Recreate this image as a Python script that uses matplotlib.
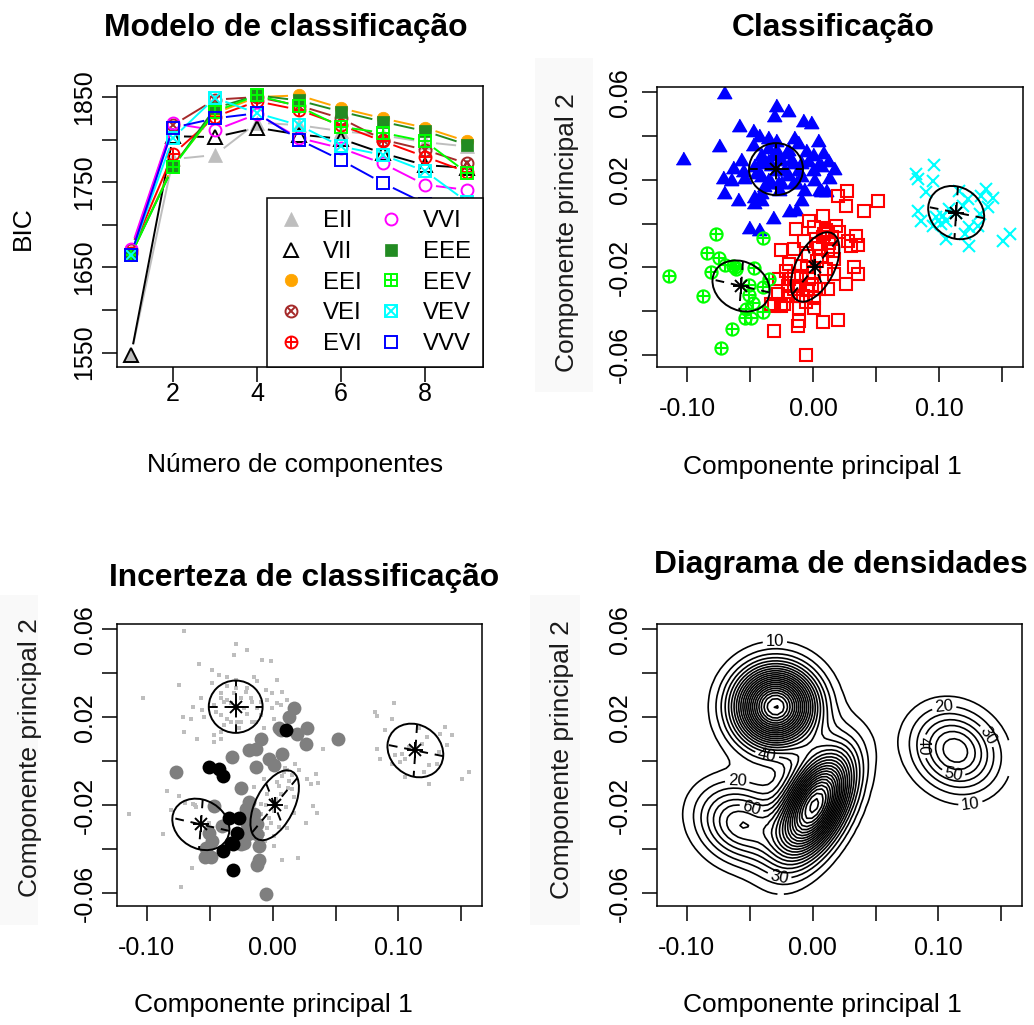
import numpy as np
import matplotlib
matplotlib.use('Agg')
import matplotlib.pyplot as plt
from matplotlib.patches import Ellipse, Rectangle
from matplotlib.collections import LineCollection

plt.rcParams['font.family'] = ['Liberation Sans', 'DejaVu Sans']

# ---------------- data: BIC per model ----------------
n_comp = [1, 2, 3, 4, 5, 6, 7, 8, 9]
bic_EII = [1547, 1777, 1782, 1820, 1817, 1810, 1805, 1797, 1792]
bic_VII = [1547, 1804, 1803, 1814, 1806, 1801, 1784, 1770, 1767]
bic_EEI = [1665, 1770, 1831, 1850, 1852, 1837, 1825, 1814, 1798]
bic_VEI = [1670, 1817, 1847, 1850, 1840, 1825, 1800, 1788, 1772]
bic_EVI = [1667, 1783, 1827, 1845, 1835, 1817, 1798, 1780, 1762]
bic_VVI = [1672, 1819, 1811, 1830, 1802, 1790, 1772, 1747, 1741]
bic_EEE = [1665, 1768, 1837, 1852, 1846, 1833, 1821, 1810, 1794]
bic_EEV = [1665, 1768, 1833, 1852, 1839, 1815, 1808, 1798, 1761]
bic_VEV = [1665, 1802, 1849, 1831, 1817, 1792, 1782, 1763, 1727]
bic_VVV = [1665, 1814, 1825, 1831, 1800, 1776, 1749, 1725, 1700]

# ---------------- data: points per cluster (PC1, PC2) ----------------
blue_x = [-0.0704, -0.1034, -0.0743, -0.0585, -0.0294, -0.0201, -0.0307, -0.0082, -0.0016, -0.0479,
          -0.0426, -0.0360, -0.0294, -0.0148, -0.0122, 0.0037, -0.0056, -0.0003, 0.0116, 0.0169,
          0.0130, -0.0003, -0.0095, -0.0201, -0.0413, -0.0386, -0.0637, -0.0558, -0.0717, -0.0651,
          -0.0545, -0.0704, -0.0598, -0.0466, -0.0413, -0.0466, -0.0320, -0.0188, -0.0135, -0.0095,
          0.0050, 0.0103, -0.0506, -0.0426, -0.0254, -0.0333, -0.0360, -0.0294, -0.0161, -0.0201,
          -0.0452, -0.0042, -0.0135, -0.0267, 0.0037, 0.0077, -0.0413, -0.0069, -0.0479, -0.0360,
          -0.0571, -0.0095, 0.0010, -0.0307, 0.0063, -0.0413, -0.0333, -0.0254, -0.0413, -0.0360,
          -0.0280, -0.0228, -0.0175, -0.0122, -0.0161, -0.0466, -0.0294, -0.0214, -0.0386, 0.0063]
blue_y = [0.0593, 0.0290, 0.0348, 0.0443, 0.0532, 0.0509, 0.0486, 0.0463, 0.0455, 0.0417,
          0.0394, 0.0386, 0.0371, 0.0386, 0.0364, 0.0371, 0.0326, 0.0310, 0.0280, 0.0244,
          0.0203, 0.0241, 0.0272, 0.0333, 0.0310, 0.0272, 0.0249, 0.0234, 0.0203, 0.0195,
          0.0203, 0.0135, 0.0101, 0.0119, 0.0104, 0.0089, 0.0020, 0.0051, 0.0058, 0.0104,
          0.0150, 0.0142, -0.0026, -0.0034, 0.0180, 0.0180, 0.0280, 0.0241, 0.0272, 0.0218,
          0.0226, 0.0280, 0.0180, 0.0150, 0.0264, 0.0318, 0.0135, 0.0150, 0.0356, 0.0341,
          0.0287, 0.0211, 0.0195, 0.0310, 0.0142, 0.0287, 0.0264, 0.0287, 0.0211, 0.0195,
          0.0180, 0.0241, 0.0287, 0.0241, 0.0180, 0.0257, 0.0333, 0.0318, 0.0165, 0.0257]

red_x = [0.0196, 0.0270, 0.0262, 0.0402, 0.0518, -0.0135, -0.0029, 0.0077, 0.0010, -0.0254,
         -0.0148, -0.0069, 0.0077, 0.0130, 0.0209, 0.0275, 0.0341, 0.0360, 0.0156, 0.0037,
         -0.0214, -0.0267, -0.0188, -0.0095, 0.0010, 0.0103, 0.0169, 0.0323, 0.0355, 0.0262,
         -0.0122, -0.0042, -0.0201, -0.0280, -0.0122, 0.0010, -0.0333, -0.0254, -0.0109, 0.0010,
         0.0117, -0.0109, -0.0122, 0.0077, 0.0201, -0.0312, -0.0056, 0.0063, -0.0042, -0.0095,
         -0.0188, 0.0169, 0.0117, 0.0302, -0.0029, -0.0148, -0.0312, -0.0230, 0.0100, 0.0150,
         0.0050, -0.0010, 0.0050, -0.0080, 0.0090, 0.0180, 0.0120, -0.0050, -0.0150, -0.0060,
         0.0030, -0.0200]
red_y = [0.0127, 0.0150, 0.0078, 0.0058, 0.0104, -0.0023, 0.0012, 0.0035, -0.0018, -0.0121,
         -0.0117, -0.0079, -0.0064, -0.0087, -0.0041, -0.0079, -0.0057, -0.0099, -0.0125, -0.0095,
         -0.0217, -0.0255, -0.0255, -0.0240, -0.0224, -0.0209, -0.0232, -0.0201, -0.0232, -0.0278,
         -0.0286, -0.0301, -0.0286, -0.0324, -0.0331, -0.0339, -0.0369, -0.0377, -0.0385, -0.0385,
         -0.0301, -0.0446, -0.0469, -0.0450, -0.0441, -0.0492, -0.0603, -0.0148, -0.0148, -0.0194,
         -0.0186, -0.0163, -0.0041, -0.0102, -0.0255, -0.0240, -0.0377, -0.0370, -0.0030, -0.0060,
         -0.0110, -0.0280, -0.0300, -0.0330, -0.0050, -0.0010, -0.0120, -0.0200, -0.0300, -0.0360,
         -0.0170, -0.0330]

green_x = [-0.1140, -0.0770, -0.0394, -0.0844, -0.0748, -0.0810, -0.0871, -0.0632, -0.0611, -0.0466,
           -0.0510, -0.0399, -0.0510, -0.0479, -0.0532, -0.0394, -0.0537, -0.0643, -0.0730, -0.0347,
           -0.0492, -0.0700, -0.0620]
green_y = [-0.0240, -0.0046, -0.0067, -0.0133, -0.0156, -0.0220, -0.0331, -0.0194, -0.0209, -0.0204,
           -0.0281, -0.0293, -0.0327, -0.0362, -0.0392, -0.0407, -0.0434, -0.0484, -0.0571, -0.0255,
           -0.0434, -0.0190, -0.0200]

cyan_x = [0.0963, 0.0831, 0.0950, 0.0897, 0.0831, 0.0857, 0.0976, 0.1029, 0.1056, 0.0950,
          0.1161, 0.1228, 0.1333, 0.1426, 0.1386, 0.1320, 0.1240, 0.1307, 0.1201, 0.1056,
          0.1240, 0.1506, 0.1558, 0.1135, 0.1082, 0.1188, 0.1373, 0.0817, 0.1016]
cyan_y = [0.0267, 0.0206, 0.0195, 0.0142, 0.0058, 0.0012, 0.0028, 0.0035, 0.0012, -0.0011,
          0.0150, 0.0112, 0.0127, 0.0119, 0.0074, 0.0043, -0.0018, -0.0011, -0.0049, -0.0072,
          -0.0102, -0.0079, -0.0049, 0.0050, 0.0066, 0.0081, 0.0157, 0.0226, -0.0003]

# ---------------- data: fitted mixture (blue, red, green, cyan) ----------------
comp_mean_x = [-0.0294, 0.0016, -0.0571, 0.1135]
comp_mean_y = [0.0249, -0.0199, -0.0286, 0.0050]
comp_sd_x = [0.0214, 0.0193, 0.0227, 0.0222]
comp_sd_y = [0.0119, 0.0159, 0.0117, 0.0122]
comp_rho = [0.0, 0.51, -0.19, -0.15]
comp_prop = [0.37, 0.37, 0.13, 0.13]

# contour labels as R placed them: level and a point near the label
label_level = [10, 20, 60, 40, 30, 20, 30, 40, 50, 10]
label_x = [-0.030, -0.060, -0.051, -0.0365, -0.026, 0.1048, 0.1365, 0.089, 0.1114, 0.126]
label_y = [0.053, -0.0114, -0.025, 0.0023, -0.0508, 0.024, 0.0107, 0.0069, -0.0068, -0.0212]

W, H = 1034, 1025
fig = plt.figure(figsize=(W / 100, H / 100), dpi=100)


def fx(x):
    return x / W


def fy(y):
    return 1 - y / H


def add_axes(l, t, r, b):
    return fig.add_axes([fx(l), fy(b), (r - l) / W, (b - t) / H])


TICK_FS = 18
LAB_FS = 19
TITLE_FS = 22.9


def style_axes(ax, xpad, ypad):
    for s in ax.spines.values():
        s.set_linewidth(1.1)
    ax.tick_params(length=10.5, width=1.1, labelsize=TICK_FS)
    ax.tick_params(axis='x', pad=xpad)
    ax.tick_params(axis='y', pad=ypad)


def pc_ticks(ax):
    ax.set_xlim(-0.1238, 0.1665)
    ax.set_ylim(-0.0657, 0.0625)
    ax.set_xticks([-0.10, -0.05, 0.0, 0.05, 0.10, 0.15])
    ax.set_xticklabels(['-0.10', '', '0.00', '', '0.10', ''])
    ax.set_yticks([-0.06, -0.04, -0.02, 0.0, 0.02, 0.04, 0.06])
    ax.set_yticklabels(['-0.06', '', '-0.02', '', '0.02', '', '0.06'], rotation=90, va='center')


# ---------------- panel 1: BIC ----------------
ax1 = add_axes(117, 86, 483, 367)
ax1.set_xlim(0.667, 9.38)
ax1.set_ylim(1533, 1863)
ax1.set_xticks([2, 4, 6, 8])
ax1.set_yticks([1550, 1600, 1650, 1700, 1750, 1800, 1850])
ax1.set_yticklabels(['1550', '', '1650', '', '1750', '', '1850'], rotation=90, va='center')
style_axes(ax1, 0, 4.5)

models = [
    ('EII', bic_EII, '#BEBEBE', [('^', 10, True)]),
    ('VII', bic_VII, 'black', [('^', 10, False)]),
    ('EEI', bic_EEI, '#FFA500', [('o', 9, True)]),
    ('VEI', bic_VEI, '#A52A2A', [('o', 8.6, False), ('x', 6.1, False)]),
    ('EVI', bic_EVI, '#FF0000', [('o', 8.6, False), ('+', 8.6, False)]),
    ('VVI', bic_VVI, '#FF00FF', [('o', 8.6, False)]),
    ('EEE', bic_EEE, '#228B22', [('s', 8.6, True)]),
    ('EEV', bic_EEV, '#00FF00', [('s', 8.6, False), ('+', 8.6, False)]),
    ('VEV', bic_VEV, '#00FFFF', [('s', 8.6, False), ('x', 8.6, False)]),
    ('VVV', bic_VVV, '#0000FF', [('s', 8.8, False)]),
]

inv = ax1.transData.inverted()
handles = []
labels = []
for name, vals, col, marks in models:
    pts = ax1.transData.transform(np.column_stack([n_comp, vals]))
    segs = []
    gap = 11
    for p0, p1 in zip(pts[:-1], pts[1:]):
        d = p1 - p0
        L = np.hypot(d[0], d[1])
        if L <= 2 * gap:
            continue
        u = d / L
        segs.append(inv.transform([p0 + u * gap, p1 - u * gap]))
    ax1.add_collection(LineCollection(segs, colors=col, linewidths=1.4))
    hs = []
    for m, ms, filled in marks:
        h, = ax1.plot(n_comp, vals, linestyle='none', marker=m, markersize=ms,
                      markeredgecolor=col, markerfacecolor=col if filled else 'none',
                      markeredgewidth=1.4 if not filled else 0.5)
        hs.append(h)
    handles.append(tuple(hs))
    labels.append(name)

leg = ax1.legend(handles, labels, ncol=2, loc='lower right', bbox_to_anchor=(1, 0),
                 borderaxespad=0, fontsize=17.3, frameon=True, fancybox=False, framealpha=1,
                 edgecolor='black', handlelength=1.0, handletextpad=0.85, columnspacing=0.7,
                 borderpad=0.5, labelspacing=0.36)
leg.get_frame().set_linewidth(1.1)

fig.text(fx(286), fy(28), 'Modelo de classificação', ha='center', va='center',
         fontsize=TITLE_FS, fontweight='bold')
fig.text(fx(295), fy(465), 'Número de componentes', ha='center', va='center', fontsize=LAB_FS)
fig.text(fx(23), fy(228), 'BIC', ha='center', va='center', rotation=90, fontsize=LAB_FS)

# ---------------- shared mixture helpers ----------------
all_x = np.array(blue_x + red_x + green_x + cyan_x)
all_y = np.array(blue_y + red_y + green_y + cyan_y)


def comp_pdf(k, x, y):
    zx = (x - comp_mean_x[k]) / comp_sd_x[k]
    zy = (y - comp_mean_y[k]) / comp_sd_y[k]
    r = comp_rho[k]
    q = (zx ** 2 - 2 * r * zx * zy + zy ** 2) / (1 - r ** 2)
    return np.exp(-q / 2) / (2 * np.pi * comp_sd_x[k] * comp_sd_y[k] * np.sqrt(1 - r ** 2))


def draw_components(ax):
    for k in range(4):
        sx, sy, r = comp_sd_x[k], comp_sd_y[k], comp_rho[k]
        cov = np.array([[sx * sx, r * sx * sy], [r * sx * sy, sy * sy]])
        vals, vecs = np.linalg.eigh(cov)
        c = np.array([comp_mean_x[k], comp_mean_y[k]])
        ang = np.degrees(np.arctan2(vecs[1, 1], vecs[0, 1]))
        ax.add_patch(Ellipse(c, 2 * np.sqrt(vals[1]), 2 * np.sqrt(vals[0]), angle=ang,
                             fill=False, edgecolor='black', linewidth=1.4, zorder=5))
        for j in range(2):
            v = vecs[:, j] * np.sqrt(vals[j])
            ax.plot([c[0] - v[0], c[0] + v[0]], [c[1] - v[1], c[1] + v[1]], color='black',
                    linewidth=1.4, linestyle=(0, (4.5, 3.5)), zorder=5)
        ax.plot(c[0], c[1], marker='+', markersize=12, color='black', markeredgewidth=1.4, zorder=6)
        ax.plot(c[0], c[1], marker='x', markersize=8.5, color='black', markeredgewidth=1.4, zorder=6)


band = '#f9f9f9'
fig.patches.append(Rectangle((fx(535), fy(392)), 58 / W, 334 / H, transform=fig.transFigure,
                             facecolor=band, edgecolor='none', zorder=-1))
fig.patches.append(Rectangle((fx(0), fy(925)), 38 / W, 330 / H, transform=fig.transFigure,
                             facecolor=band, edgecolor='none', zorder=-1))
fig.patches.append(Rectangle((fx(530), fy(925)), 50 / W, 330 / H, transform=fig.transFigure,
                             facecolor=band, edgecolor='none', zorder=-1))

# ---------------- panel 2: classification ----------------
ax2 = add_axes(657, 87, 1023, 367)
pc_ticks(ax2)
style_axes(ax2, 11, 7.6)
tri = [(-1, -0.5774), (1, -0.5774), (0, 1.1547)]
ax2.plot(blue_x, blue_y, linestyle='none', marker=tri, markersize=12, color='#0000FF')
ax2.plot(red_x, red_y, linestyle='none', marker='s', markersize=8.8, markerfacecolor='none',
         markeredgecolor='#FF0000', markeredgewidth=1.5)
ax2.plot(green_x, green_y, linestyle='none', marker='o', markersize=8.8, markerfacecolor='none',
         markeredgecolor='#00FF00', markeredgewidth=1.5)
ax2.plot(green_x, green_y, linestyle='none', marker='+', markersize=8.8,
         markeredgecolor='#00FF00', markeredgewidth=1.5)
ax2.plot(cyan_x, cyan_y, linestyle='none', marker='x', markersize=9,
         markeredgecolor='#00FFFF', markeredgewidth=1.5)
draw_components(ax2)
fig.text(fx(833), fy(28), 'Classificação', ha='center', va='center', fontsize=TITLE_FS,
         fontweight='bold')
fig.text(fx(822), fy(467), 'Componente principal 1', ha='center', va='center', fontsize=LAB_FS)
fig.text(fx(567), fy(233), 'Componente principal 2', ha='center', va='center', rotation=90,
         fontsize=LAB_FS, color='#1a1a1a')

# ---------------- panel 3: uncertainty ----------------
ax3 = add_axes(117, 624, 482, 906)
pc_ticks(ax3)
style_axes(ax3, 11, 4)
dens_k = np.array([comp_prop[k] * comp_pdf(k, all_x, all_y) for k in range(4)])
post = dens_k / dens_k.sum(axis=0)
unc = 1 - post.max(axis=0)
b1, b2 = np.quantile(unc, [0.75, 0.95])
low = unc <= b1
mid = (unc > b1) & (unc <= b2)
high = unc > b2
ax3.plot(all_x[low], all_y[low], linestyle='none', marker='s', markersize=3.4,
         color='#BEBEBE', markeredgewidth=0)
ax3.plot(all_x[mid], all_y[mid], linestyle='none', marker='o', markersize=10,
         color='#7F7F7F', markeredgewidth=0)
ax3.plot(all_x[high], all_y[high], linestyle='none', marker='o', markersize=10,
         color='black', markeredgewidth=0)
draw_components(ax3)
fig.text(fx(304), fy(578), 'Incerteza de classificação', ha='center', va='center',
         fontsize=TITLE_FS, fontweight='bold')
fig.text(fx(273), fy(1005), 'Componente principal 1', ha='center', va='center', fontsize=LAB_FS)
fig.text(fx(30), fy(758), 'Componente principal 2', ha='center', va='center', rotation=90,
         fontsize=LAB_FS, color='#1a1a1a')

# ---------------- panel 4: density ----------------
ax4 = add_axes(657, 624, 1022, 906)
pc_ticks(ax4)
style_axes(ax4, 11, 7.6)
gx, gy = np.meshgrid(np.linspace(all_x.min(), all_x.max(), 70),
                     np.linspace(all_y.min(), all_y.max(), 70))
dens = sum(comp_prop[k] * comp_pdf(k, gx, gy) for k in range(4))
# one contour set per level, so each label can sit on its own level
for lev in np.arange(10, 240, 10):
    cs = ax4.contour(gx, gy, dens, levels=[lev], colors='black', linewidths=1.2)
    spots = [(lx, ly) for lv, lx, ly in zip(label_level, label_x, label_y) if lv == lev]
    if spots:
        ax4.clabel(cs, fmt='%d', fontsize=12, inline=True, inline_spacing=3, manual=spots)
fig.text(fx(841), fy(565), 'Diagrama de densidades', ha='center', va='center',
         fontsize=TITLE_FS, fontweight='bold')
fig.text(fx(822), fy(1005), 'Componente principal 1', ha='center', va='center', fontsize=LAB_FS)
fig.text(fx(562), fy(760), 'Componente principal 2', ha='center', va='center', rotation=90,
         fontsize=LAB_FS, color='#1a1a1a')

fig.savefig('out.png', dpi=100)
